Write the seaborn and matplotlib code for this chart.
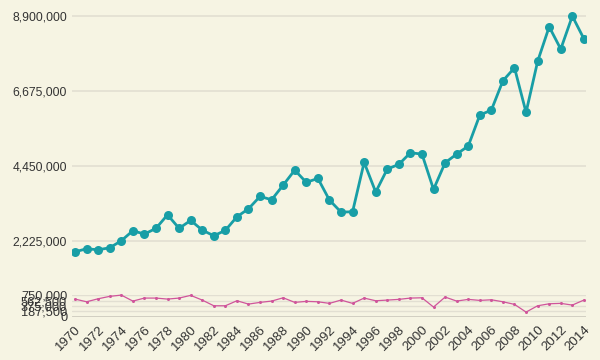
import matplotlib
matplotlib.use("Agg")
import matplotlib.pyplot as plt
import matplotlib.ticker as mticker
import seaborn as sns
import pandas as pd

years = list(range(1970, 2015))
main_values = [1898000, 1988000, 1958000, 2017000, 2225000, 2522000, 2424000, 2593000,
               2996000, 2593000, 2830000, 2542000, 2373000, 2534000, 2937000, 3174000,
               3542000, 3441000, 3877000, 4322000, 3957000, 4076000, 3432000, 3076000,
               3085000, 4551000, 3670000, 4352000, 4492000, 4836000, 4797000, 3750000,
               4539000, 4797000, 5034000, 5954000, 6102000, 6972000, 7357000, 6034000,
               7547000, 8574000, 7912000, 8890000, 8218000]
small_values = [612000, 519000, 623000, 706000, 750000, 543000, 647000, 647000,
                612000, 647000, 740000, 578000, 381000, 381000, 554000, 439000,
                498000, 543000, 657000, 498000, 533000, 519000, 464000, 578000,
                464000, 647000, 554000, 578000, 602000, 647000, 657000, 336000,
                682000, 543000, 602000, 567000, 588000, 519000, 429000, 163000,
                381000, 450000, 464000, 405000, 578000]
main_ticks = [2225000, 4450000, 6675000, 8900000]
small_ticks = [0, 187500, 375000, 562500, 750000]
x_ticks = list(range(1970, 2015, 2))

df = pd.DataFrame({"year": years, "main": main_values, "small": small_values})

bg = "#f6f4e3"
teal = "#189ea6"
pink = "#d0559b"
grid = "#e2dfd2"
text = "#333333"

sns.set_theme(style="white")
plt.rcParams["font.family"] = ["Liberation Sans", "DejaVu Sans"]

fig = plt.figure(figsize=(6, 3.6), dpi=100, facecolor=bg)
ax1 = fig.add_axes([0.12, 0.272, 0.857, 0.70])
ax2 = fig.add_axes([0.12, 0.12, 0.857, 0.0603])

for ax in (ax1, ax2):
    ax.set_facecolor(bg)
    for s in ax.spines.values():
        s.set_visible(False)
    ax.tick_params(length=0, colors=text, labelsize=8.7)
    ax.set_xlim(1969.74, 2014.2)

sns.lineplot(data=df, x="year", y="main", ax=ax1, color=teal, linewidth=2.0,
             marker="o", markersize=6.5, markeredgewidth=0, zorder=3)
ax1.set_ylim(1593000, 9069000)
ax1.set_yticks(main_ticks)
ax1.yaxis.set_major_formatter(mticker.FuncFormatter(lambda v, p: f"{int(v):,}"))
ax1.grid(axis="y", color=grid, linewidth=1.2)
ax1.set_xticks([])
ax1.set_xlabel("")
ax1.set_ylabel("")

sns.lineplot(data=df, x="year", y="small", ax=ax2, color=pink, linewidth=0.9,
             marker="o", markersize=2.2, markeredgewidth=0, zorder=3)
ax2.set_ylim(0, 750000)
ax2.set_yticks(small_ticks)
ax2.yaxis.set_major_formatter(mticker.FuncFormatter(lambda v, p: f"{int(v):,}"))
ax2.tick_params(axis="y", labelsize=9.2)
ax2.grid(axis="y", color=grid, linewidth=1.0)
ax2.axhline(0, color="#cfccbf", linewidth=2, zorder=1)
ax2.set_xticks(x_ticks)
ax2.set_xticklabels([str(y) for y in x_ticks], rotation=45, ha="right",
                    rotation_mode="anchor", fontsize=9.6)
ax2.tick_params(axis="x", pad=5)
ax2.set_xlabel("")
ax2.set_ylabel("")
for line in ax2.lines[:1]:
    line.set_clip_on(False)

fig.savefig("out.png", dpi=100, facecolor=bg)
